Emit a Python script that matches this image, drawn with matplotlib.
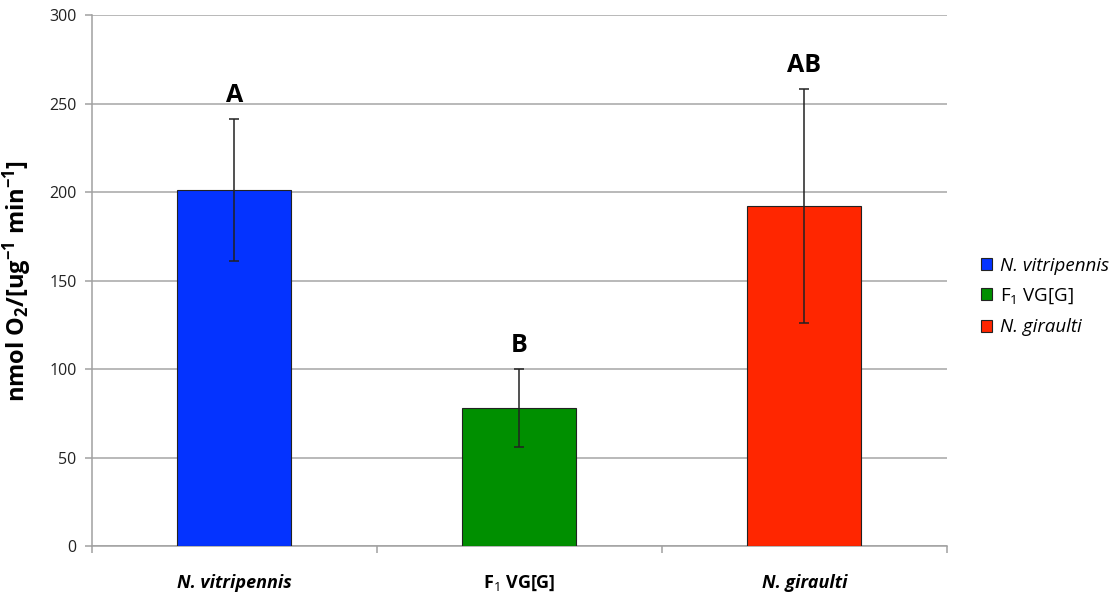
import matplotlib.pyplot as plt
import numpy as np
from matplotlib.patches import Rectangle

plt.rcParams['font.family'] = ['Open Sans', 'DejaVu Sans']
plt.rcParams['mathtext.fontset'] = 'custom'
plt.rcParams['mathtext.rm'] = 'Open Sans'
plt.rcParams['mathtext.bf'] = 'Open Sans:bold'
plt.rcParams['mathtext.it'] = 'Open Sans:italic'

# respiration rate per group, with error and significance letters
groups = ["N. vitripennis", "F$_1$ VG[G]", "N. giraulti"]
italic = [True, False, True]
means = [201, 78, 192]
errors = [40, 22, 66]
letters = ["A", "B", "AB"]
colors = ["#0433ff", "#008f00", "#ff2600"]

fig = plt.figure(figsize=(11.12, 5.94), dpi=100)
ax = fig.add_axes([0.0827, 0.0808, 0.7689, 0.8939])

x = np.arange(len(groups))
bars = ax.bar(x, means, 0.4, color=colors, edgecolor='#222222', linewidth=0.8,
              zorder=3)
ax.errorbar(x, means, yerr=errors, fmt='none', ecolor='#222222', elinewidth=1.1,
            capsize=3.5, capthick=1.1, zorder=4)

# significance letters above the error bars
for xi, m, e, s in zip(x, means, errors, letters):
    ax.annotate(s, (xi, m + e), xytext=(0, 8), textcoords='offset points',
                ha='center', va='bottom', fontsize=18, fontweight='bold')

ax.set_ylim(0, 300)
ax.set_xlim(-0.5, 2.5)
ax.set_yticks(np.arange(0, 301, 50))
ax.yaxis.grid(True, color='#a6a6a6', linewidth=1.1, zorder=0)
ax.set_axisbelow(True)

for side in ['top', 'right']:
    ax.spines[side].set_visible(False)
for side in ['left', 'bottom']:
    ax.spines[side].set_color('#a0a0a0')
    ax.spines[side].set_linewidth(1.1)

ax.tick_params(axis='y', colors='#a0a0a0', labelcolor='#222222', labelsize=11.5,
               length=5, width=1.1, pad=6)
ax.set_xticks(x)
ax.set_xticklabels(groups, fontsize=13, fontweight='bold')
for lab, it in zip(ax.get_xticklabels(), italic):
    if it:
        lab.set_style('italic')
ax.set_xticks([-0.5, 0.5, 1.5, 2.5], minor=True)
ax.tick_params(axis='x', which='major', length=0, pad=20)
ax.tick_params(axis='x', which='minor', length=5, width=1.1, colors='#a0a0a0')

ax.set_ylabel(r"nmol O$_\mathbf{2}$/[ug$^\mathbf{-1}$ min$^\mathbf{-1}$]",
              fontsize=17, fontweight='bold', labelpad=11)

handles = [Rectangle((0, 0), 1, 1, facecolor=c, edgecolor='#222222', linewidth=0.8)
           for c in colors]
leg = ax.legend(handles, groups, loc='center left', bbox_to_anchor=(1.02, 0.47),
                frameon=False, fontsize=13.5, handlelength=0.6, handleheight=0.6,
                handletextpad=0.4, labelspacing=0.65)
for t, it in zip(leg.get_texts(), italic):
    if it:
        t.set_style('italic')

fig.savefig("out.png", dpi=100)
